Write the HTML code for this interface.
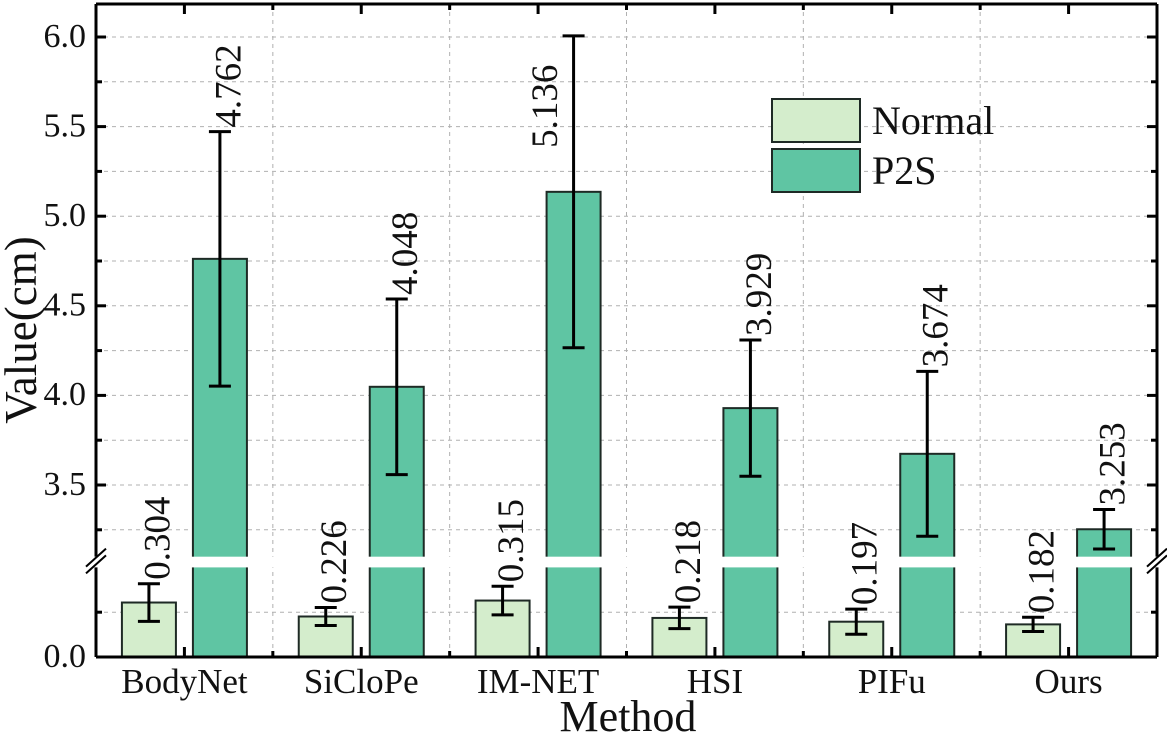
<!DOCTYPE html>
<html><head><meta charset="utf-8"><style>
html,body{margin:0;padding:0;background:#fff;}
svg{display:block;font-family:"Liberation Serif",serif;}
</style></head><body>
<svg id="chart" width="1167" height="735" viewBox="0 0 1167 735"></svg>
<script>
const categories=["BodyNet","SiCloPe","IM-NET","HSI","PIFu","Ours"];
const normalValues=[0.304,0.226,0.315,0.218,0.197,0.182];
const normalErrors=[0.105,0.05,0.08,0.06,0.07,0.04];
const p2sValues=[4.762,4.048,5.136,3.929,3.674,3.253];
const p2sErrors=[0.71,0.49,0.87,0.38,0.46,0.11];
const upperTicks=[3.5,4.0,4.5,5.0,5.5,6.0];
const upperGrid=[3.25,3.5,3.75,4.0,4.25,4.5,4.75,5.0,5.25,5.5,5.75,6.0];
const lowerTicks=[0.0];
const lowerGrid=[0.25];

const svg=document.getElementById('chart');
const NS='http://www.w3.org/2000/svg';
const L=96,R=1157,T=4,B=657;
const PPU=179.2;
const Y_UP0=485,UP_REF=3.5;
const UP_MIN=3.1, LO_MAX=0.5;
function yScale(v){return v>=1?Y_UP0-(v-UP_REF)*PPU:B-v*PPU;}
const yBreakTop=yScale(UP_MIN), yBreakBot=yScale(LO_MAX);
const groupW=(R-L)/categories.length;
function xCenter(i){return L+groupW*(i+0.5);}
function mk(tag,attrs,parent){const e=document.createElementNS(NS,tag);for(const k in attrs)e.setAttribute(k,attrs[k]);(parent||svg).appendChild(e);return e;}

const grid=mk('g',{});


upperGrid.concat(lowerGrid).forEach(v=>{mk('line',{x1:L,x2:R,y1:yScale(v),y2:yScale(v),stroke:'#b0b0b0','stroke-width':1,'stroke-dasharray':'4,4'},grid);});
for(let i=1;i<categories.length;i++){const x=L+groupW*i;mk('line',{x1:x,x2:x,y1:T,y2:B,stroke:'#b0b0b0','stroke-width':1,'stroke-dasharray':'4,4'},grid);}

const bw=54;
const labels=[];
function drawBar(i,v,e,off,fill,name){
  const x=xCenter(i)+off, y=yScale(v);
  const r=mk('rect',{x:x-bw/2,y:y,width:bw,height:B-y,fill:fill,stroke:'#1e2a25','stroke-width':2});
  
  
  const yt=yScale(v+e), yb=yScale(v-e);
  const eb=mk('path',{d:`M${x} ${yt}V${yb}M${x-11} ${yt}H${x+11}M${x-11} ${yb}H${x+11}`,stroke:'#000','stroke-width':3,fill:'none'});
  
  
  let tx=x+12, ty=yt-4;
  if(yt-110<T){tx=x-25; ty=yt+112;}
  labels.push([tx,ty,v.toFixed(3),name]);
}
categories.forEach((c,i)=>{
  drawBar(i,normalValues[i],normalErrors[i],-35.5,'#d4edcc','normal');
  drawBar(i,p2sValues[i],p2sErrors[i],35.5,'#5fc5a3','p2s');
});
mk('rect',{x:L+1,y:yBreakTop,width:R-L-2,height:yBreakBot-yBreakTop,fill:'#fff'});
labels.forEach(([tx,ty,s,name])=>{
  const t=mk('text',{x:tx,y:ty,transform:`rotate(-90 ${tx} ${ty})`,'font-size':37,'dominant-baseline':'middle',fill:'#111'});
  t.textContent=s;
  
  
});

const ax=mk('g',{stroke:'#000','stroke-width':3,fill:'none'});


mk('line',{x1:L,x2:R,y1:B,y2:B},ax);
mk('line',{x1:L,x2:R,y1:T,y2:T},ax);
[L,R].forEach(x=>{mk('line',{x1:x,x2:x,y1:T,y2:yBreakTop},ax);mk('line',{x1:x,x2:x,y1:yBreakBot,y2:B},ax);
  mk('path',{d:`M${x-10} ${yBreakTop+10}L${x+10} ${yBreakTop-8}M${x-10} ${yBreakBot+6}L${x+10} ${yBreakBot-12}`,'stroke-width':2},ax);});
upperGrid.concat(lowerGrid,lowerTicks).forEach(v=>{const y=yScale(v);const major=upperTicks.includes(v)||lowerTicks.includes(v);const len=major?10:6;
  mk('line',{x1:L,x2:L+len,y1:y,y2:y},ax);mk('line',{x1:R,x2:R-len,y1:y,y2:y},ax);});
for(let i=0;i<=categories.length;i++){const x=L+groupW*i;mk('line',{x1:x,x2:x,y1:B,y2:B-6},ax);mk('line',{x1:x,x2:x,y1:T,y2:T+6},ax);}
categories.forEach((c,i)=>{const x=xCenter(i);mk('line',{x1:x,x2:x,y1:B,y2:B-10},ax);mk('line',{x1:x,x2:x,y1:T,y2:T+10},ax);});

upperTicks.concat(lowerTicks).forEach(v=>{const t=mk('text',{x:86,y:yScale(v)+2,'text-anchor':'end','dominant-baseline':'middle','font-size':34,fill:'#111'});t.textContent=v.toFixed(1);
  
  });
categories.forEach((c,i)=>{const t=mk('text',{x:xCenter(i),y:693,'text-anchor':'middle','font-size':35,fill:'#111'});t.textContent=c;
  
  });
const yt=mk('text',{x:36,y:330,transform:'rotate(-90 36 330)','text-anchor':'middle','font-size':45,fill:'#111'});yt.textContent='Value(cm)';


const xt=mk('text',{x:628,y:731,'text-anchor':'middle','font-size':44,fill:'#111'});xt.textContent='Method';



const lg=mk('g',{});


[['Normal','#d4edcc',99],['P2S','#5fc5a3',149]].forEach(([n,f,y])=>{
  mk('rect',{x:772,y:y,width:88,height:43,fill:f,stroke:'#1e2a25','stroke-width':2},lg);
  const t=mk('text',{x:872,y:y+35,'font-size':40,fill:'#111'},lg);t.textContent=n;
  
  
});
</script>
</body></html>
